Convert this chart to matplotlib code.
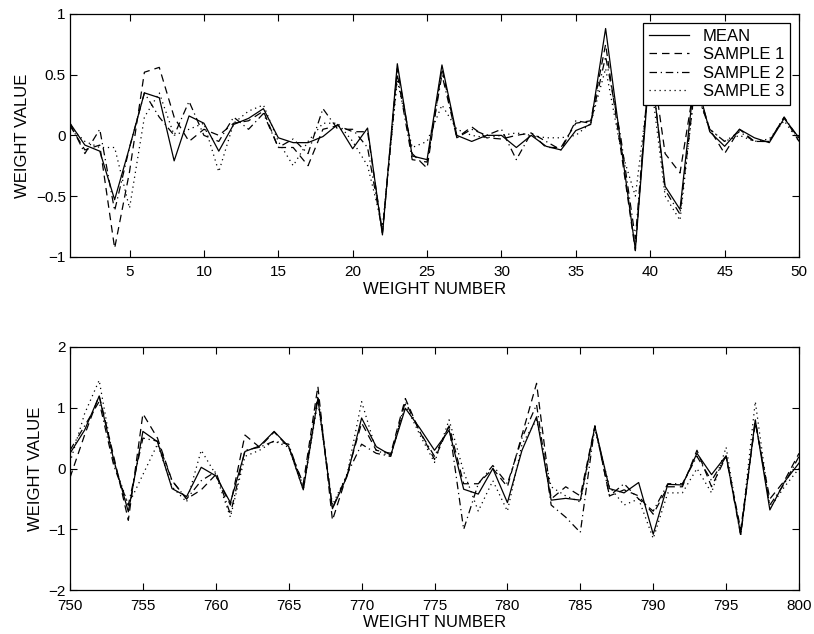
import numpy as np
import matplotlib
matplotlib.use('Agg')
from matplotlib import pyplot as plt

plt.rcParams['font.family'] = ['Liberation Sans', 'DejaVu Sans']
plt.rcParams['font.size'] = 12

# Pesos 1..50
pesos_a = np.arange(1, 51)
media_a = [0.10, -0.08, -0.13, -0.53, -0.10, 0.35, 0.31, -0.21, 0.16, 0.10,
           -0.13, 0.09, 0.14, 0.22, -0.02, -0.06, -0.06, -0.01, 0.09, -0.11,
           0.06, -0.82, 0.59, -0.17, -0.20, 0.58, 0.00, -0.05, 0.00, 0.00,
           -0.10, 0.00, -0.09, -0.12, 0.04, 0.09, 0.88, -0.05, -0.94, 0.62,
           -0.42, -0.61, 0.50, 0.03, -0.09, 0.05, -0.02, -0.06, 0.14, -0.02]
amostra1_a = [0.08, -0.12, -0.08, -0.93, -0.30, 0.52, 0.56, 0.15, -0.05, 0.05,
              0.00, 0.10, 0.12, 0.20, -0.10, -0.10, -0.25, 0.05, 0.08, 0.03,
              0.03, -0.80, 0.55, -0.15, -0.27, 0.55, -0.02, 0.07, -0.02, -0.03,
              0.00, 0.02, -0.10, -0.10, 0.10, 0.12, 0.75, -0.10, -0.95, 0.72,
              -0.15, -0.31, 0.45, 0.05, -0.15, 0.05, -0.05, -0.05, 0.15, -0.05]
amostra2_a = [0.10, -0.15, 0.05, -0.62, -0.10, 0.35, 0.15, 0.00, 0.28, 0.00,
              -0.05, 0.15, 0.05, 0.18, -0.10, -0.03, -0.15, 0.22, 0.05, 0.05,
              -0.10, -0.80, 0.50, -0.20, -0.22, 0.50, -0.02, 0.05, 0.00, 0.05,
              -0.20, 0.02, -0.05, -0.12, 0.12, 0.10, 0.65, 0.00, -0.85, 0.65,
              -0.45, -0.65, 0.40, 0.05, -0.05, 0.03, -0.05, -0.05, 0.15, -0.03]
amostra3_a = [0.07, -0.05, -0.10, -0.10, -0.60, 0.15, 0.35, 0.00, 0.05, 0.10,
              -0.30, 0.10, 0.20, 0.25, -0.05, -0.25, -0.05, 0.10, 0.10, -0.05,
              -0.25, -0.75, 0.45, -0.10, -0.05, 0.25, 0.05, 0.00, -0.02, 0.00,
              0.02, 0.00, -0.02, -0.02, 0.00, 0.10, 0.55, -0.10, -0.50, 0.50,
              -0.50, -0.70, 0.40, 0.05, -0.05, 0.00, -0.05, -0.03, 0.12, -0.05]

# Pesos 750..800
pesos_b = np.arange(750, 801)
media_b = [0.25, 0.63, 1.19, 0.14, -0.71, 0.61, 0.44, -0.33, -0.46, 0.02,
           -0.12, -0.56, 0.28, 0.37, 0.61, 0.36, -0.35, 1.15, -0.66, -0.13,
           0.83, 0.36, 0.22, 0.99, 0.66, 0.30, 0.63, -0.34, -0.42, 0.00,
           -0.56, 0.30, 0.85, -0.52, -0.49, -0.52, 0.69, -0.33, -0.40, -0.23,
           -1.08, -0.26, -0.27, 0.25, -0.10, 0.21, -1.08, 0.80, -0.68, -0.22,
           0.09]
amostra1_b = [-0.15, 0.55, 1.20, 0.20, -0.85, 0.90, 0.50, -0.20, -0.50, -0.35,
              -0.10, -0.60, 0.55, 0.35, 0.60, 0.35, -0.25, 1.35, -0.85, -0.10,
              0.75, 0.30, 0.25, 1.15, 0.60, 0.15, 0.70, -0.25, -0.25, 0.00,
              -0.30, 0.55, 1.40, -0.50, -0.30, -0.45, 0.70, -0.45, -0.35, -0.45,
              -0.75, -0.30, -0.30, 0.30, -0.30, 0.20, -1.00, 0.75, -0.50, -0.20,
              0.25]
amostra2_b = [0.30, 0.70, 1.10, 0.05, -0.60, 0.50, 0.45, -0.20, -0.50, -0.20,
              -0.05, -0.75, 0.30, 0.35, 0.45, 0.40, -0.30, 1.20, -0.65, -0.10,
              0.40, 0.25, 0.20, 1.10, 0.60, 0.20, 0.70, -1.00, -0.25, 0.05,
              -0.25, 0.50, 1.05, -0.60, -0.80, -1.05, 0.70, -0.45, -0.25, -0.50,
              -0.70, -0.25, -0.25, 0.20, -0.20, 0.20, -1.10, 0.80, -0.60, -0.25,
              0.20]
amostra3_b = [0.10, 0.90, 1.45, 0.10, -0.60, -0.10, 0.40, -0.30, -0.55, 0.30,
              -0.10, -0.80, 0.20, 0.30, 0.45, 0.35, -0.35, 1.10, -0.60, -0.10,
              1.10, 0.30, 0.20, 1.05, 0.55, 0.10, 0.80, -0.05, -0.70, -0.20,
              -0.70, 0.40, 0.80, -0.30, -0.45, -0.55, 0.65, -0.30, -0.60, -0.50,
              -1.15, -0.40, -0.40, 0.00, -0.40, 0.35, -1.10, 1.10, -0.65, -0.30,
              0.00]

rotulos = ['MEAN', 'SAMPLE 1', 'SAMPLE 2', 'SAMPLE 3']
estilos = ['-', (0, (6, 4)), (0, (6, 3, 1, 3)), (0, (1, 3))]

fig = plt.figure(figsize=(8.14, 6.34), dpi=100)
ax1 = fig.add_axes([0.086, 0.595, 0.8956, 0.383])
ax2 = fig.add_axes([0.086, 0.069, 0.8956, 0.384])

for serie, ls, rot in zip([media_a, amostra1_a, amostra2_a, amostra3_a], estilos, rotulos):
    ax1.plot(pesos_a, serie, color='black', linestyle=ls, linewidth=0.9, label=rot)
for serie, ls in zip([media_b, amostra1_b, amostra2_b, amostra3_b], estilos):
    ax2.plot(pesos_b, serie, color='black', linestyle=ls, linewidth=0.9)

ax1.set_xlim(1, 50)
ax1.set_ylim(-1, 1)
ax1.set_xticks(np.arange(5, 51, 5))
ax1.set_yticks([-1, -0.5, 0, 0.5, 1])
ax1.set_yticklabels(['\u22121', '\u22120.5', '0', '0.5', '1'])

ax2.set_xlim(750, 800)
ax2.set_ylim(-2, 2)
ax2.set_xticks(np.arange(750, 801, 5))
ax2.set_yticks([-2, -1, 0, 1, 2])
ax2.set_yticklabels(['\u22122', '\u22121', '0', '1', '2'])

for ax in (ax1, ax2):
    ax.set_xlabel('WEIGHT NUMBER', labelpad=2)
    ax.set_ylabel('WEIGHT VALUE', labelpad=4)
    ax.tick_params(direction='in', top=True, right=True, length=5, width=0.8, labelsize=11)
    ax.tick_params(axis='x', pad=6)
    ax.tick_params(axis='y', pad=3)
    for sp in ax.spines.values():
        sp.set_linewidth(0.9)

leg = ax1.legend(loc='upper right', fancybox=False, framealpha=1, edgecolor='black',
                 handlelength=2.4, borderaxespad=0.55, labelspacing=0.2, borderpad=0.35,
                 handletextpad=0.8)
leg.get_frame().set_linewidth(0.9)

plt.savefig('out.png', dpi=100)
